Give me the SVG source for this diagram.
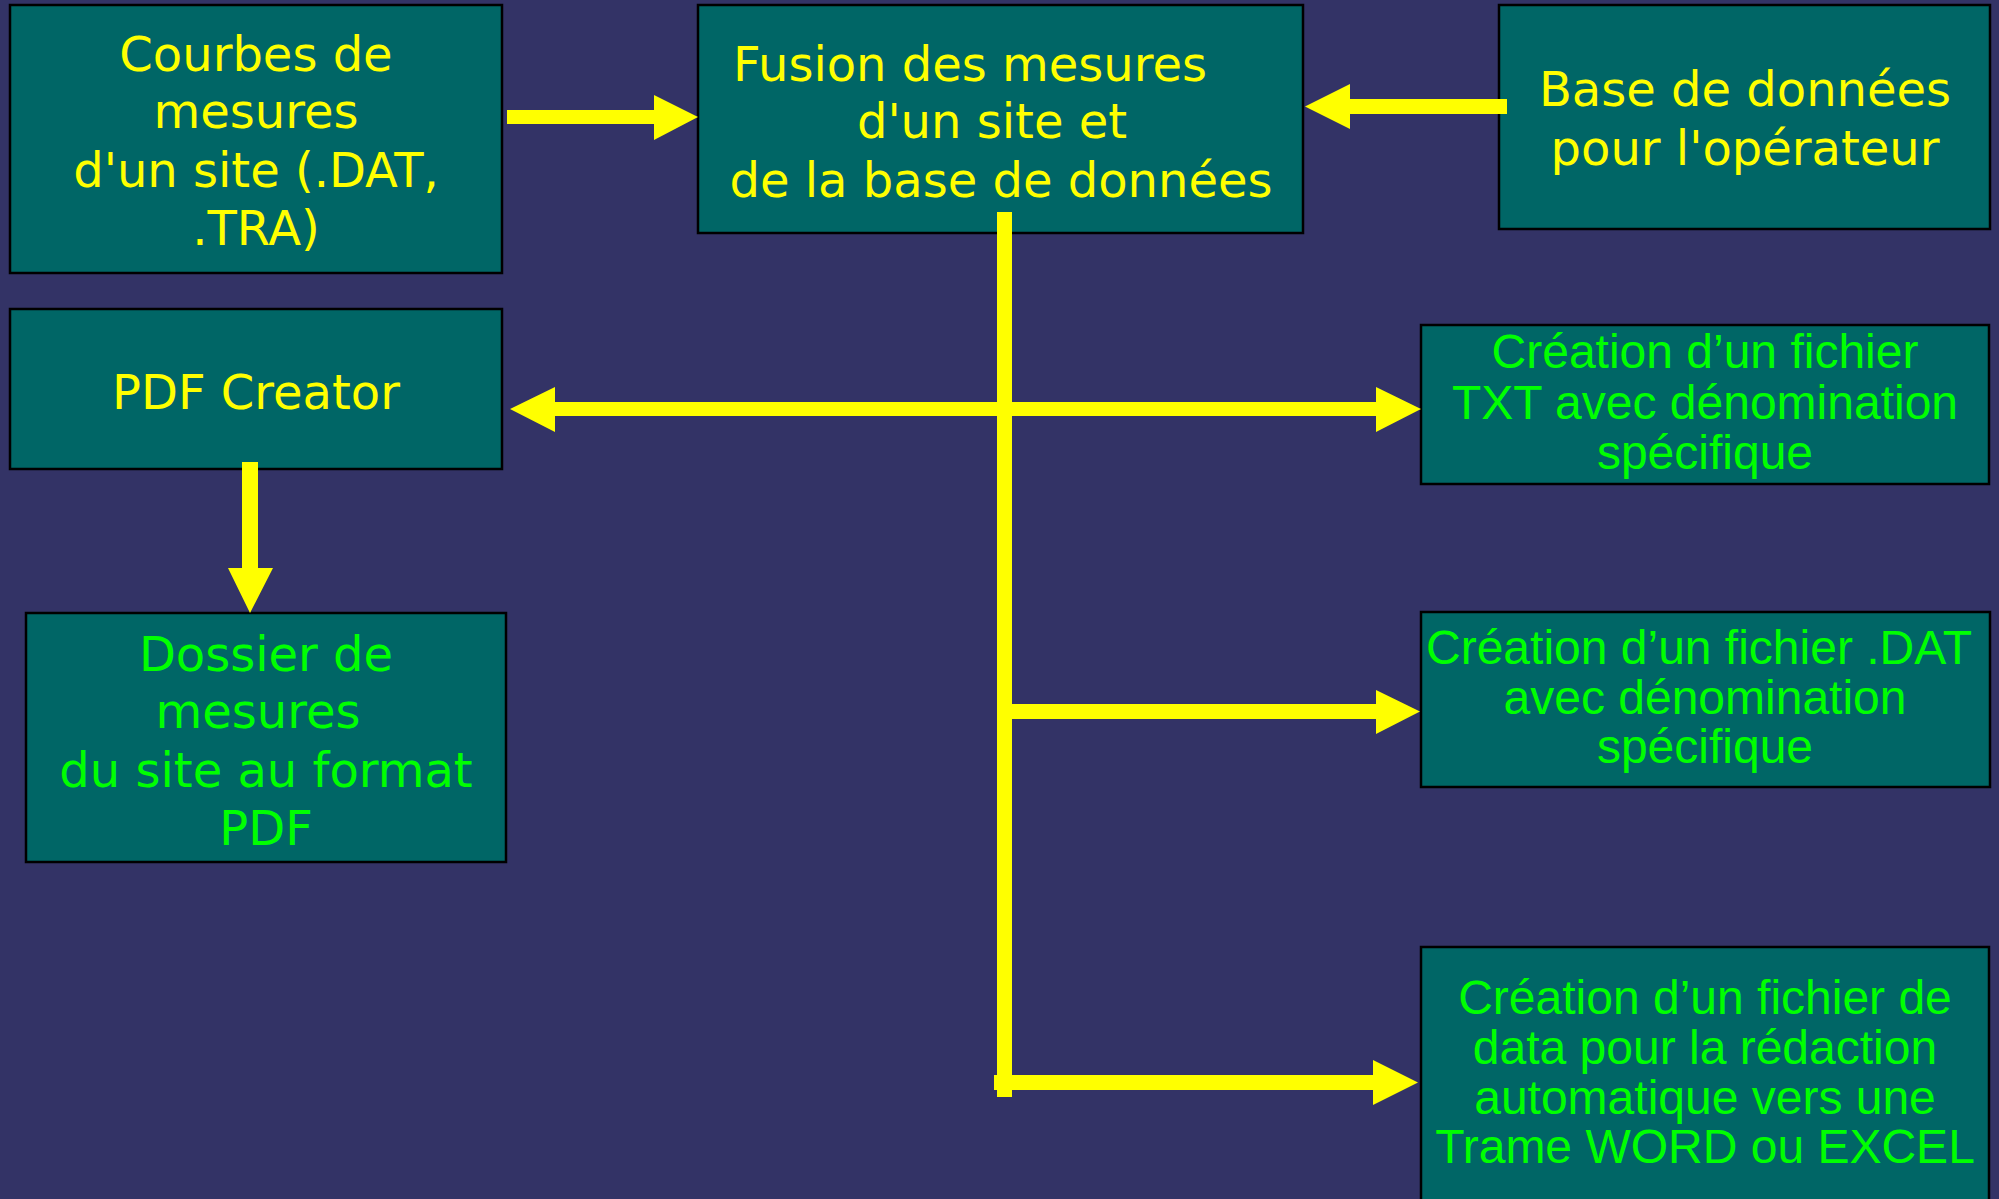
<svg xmlns="http://www.w3.org/2000/svg" width="1999" height="1199" viewBox="0 0 1999 1199">
<style>
.box{fill:#006666;stroke:#000;stroke-width:2.5}
.y{fill:#ffff00;font-family:"DejaVu Sans",Verdana,sans-serif;font-size:48px;text-anchor:middle}
.gd{fill:#00ff00}
.g{fill:#00ff00;font-family:"Liberation Sans",Arial,sans-serif;font-size:48px;text-anchor:middle}
.arr{fill:#ffff00}
</style>
<rect width="1999" height="1199" fill="#333366"/>
<g id="n_courbes">
<rect class="box" x="10" y="5" width="492" height="268"/>
<text class="y" x="256" y="71">Courbes de</text>
<text class="y" x="256" y="128">mesures</text>
<text class="y" x="256" y="187">d'un site (.DAT,</text>
<text class="y" x="256" y="245">.TRA)</text>
</g>
<g id="n_fusion">
<rect class="box" x="698" y="5" width="605" height="228"/>
<text class="y" x="970" y="81">Fusion des mesures</text>
<text class="y" x="992" y="138">d'un site et</text>
<text class="y" x="1001" y="197">de la base de données</text>
</g>
<g id="n_base">
<rect class="box" x="1499" y="5" width="491" height="224"/>
<text class="y" x="1745" y="106">Base de données</text>
<text class="y" x="1745" y="165">pour l'opérateur</text>
</g>
<g id="n_pdfcreator">
<rect class="box" x="10" y="309" width="492" height="160"/>
<text class="y" x="256" y="409">PDF Creator</text>
</g>
<g id="n_dossier">
<rect class="box" x="26" y="613" width="480" height="249"/>
<text class="y gd" x="266" y="671">Dossier de</text>
<text class="y gd" x="258" y="728">mesures</text>
<text class="y gd" x="266" y="787">du site au format</text>
<text class="y gd" x="266" y="845">PDF</text>
</g>
<g id="n_txt">
<rect class="box" x="1421" y="325" width="568" height="159"/>
<text class="g" x="1705" y="368">Création d’un fichier</text>
<text class="g" x="1705" y="419">TXT avec dénomination</text>
<text class="g" x="1705" y="469">spécifique</text>
</g>
<g id="n_dat">
<rect class="box" x="1421" y="612" width="569" height="175"/>
<text class="g" x="1699" y="664">Création d’un fichier .DAT</text>
<text class="g" x="1705" y="714">avec dénomination</text>
<text class="g" x="1705" y="763">spécifique</text>
</g>
<g id="n_word">
<rect class="box" x="1421" y="947" width="568" height="270"/>
<text class="g" x="1705" y="1014">Création d’un fichier de</text>
<text class="g" x="1705" y="1064">data pour la rédaction</text>
<text class="g" x="1705" y="1114">automatique vers une</text>
<text class="g" x="1705" y="1163">Trame WORD ou EXCEL</text>
</g>
<g id="connectors">
<polygon class="arr" points="507,110 654,110 654,95 698,117 654,140 654,124 507,124"/>
<polygon class="arr" points="1507,99 1350,99 1350,84 1305,106.5 1350,129 1350,114 1507,114"/>
<rect class="arr" x="997" y="212" width="15" height="885"/>
<polygon class="arr" points="510,409 555,387 555,402 1376,402 1376,387 1421,409 1376,432 1376,416 555,416 555,432"/>
<polygon class="arr" points="997,704 1376,704 1376,690 1420,711.5 1376,734 1376,719 997,719"/>
<polygon class="arr" points="994,1075 1373,1075 1373,1060 1418,1082.5 1373,1105 1373,1090 994,1090"/>
<polygon class="arr" points="242,462 258,462 258,568 273,568 250,613 228,568 242,568"/>
</g>
</svg>
